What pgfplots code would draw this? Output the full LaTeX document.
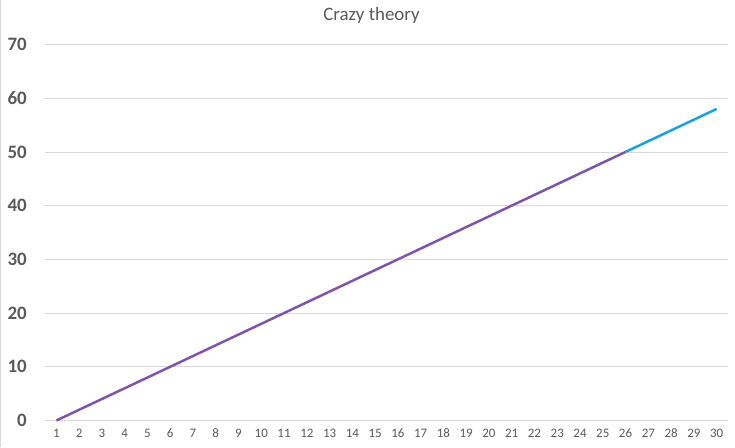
\documentclass[border=0pt]{standalone}
\usepackage{fontspec}
\setmainfont{Carlito}
\usepackage{pgfplots}
\pgfplotsset{compat=1.18}

\definecolor{linepurple}{RGB}{128,84,166}
\definecolor{lineblue}{RGB}{28,160,222}
\definecolor{gridgray}{RGB}{217,217,217}
\definecolor{labelgray}{RGB}{89,89,89}

\begin{document}
\begin{tikzpicture}
\begin{axis}[
    name=ax,
    scale only axis,
    width=683bp, height=376bp,
    xmin=0.5, xmax=30.5,
    ymin=0, ymax=70,
    xtick={1,...,30},
    ytick={0,10,...,70},
    axis line style={draw=none},
    ymajorgrids,
    grid style={gridgray, line width=0.75pt},
    major tick length=0pt,
    tick label style={labelgray},
    /pgf/number format/assume math mode=true,
    yticklabel style={font=\fontsize{19}{19}\selectfont\bfseries, anchor=east, inner sep=0pt, xshift=-18bp},
    xticklabel style={font=\fontsize{13}{13}\selectfont, anchor=north, inner sep=0pt, yshift=-8bp},
    clip=false,
]
% series 1: days 1..26
\addplot[linepurple, line width=2.5pt, line join=round] coordinates {
(1,0) (2,2) (3,4) (4,6) (5,8) (6,10) (7,12) (8,14) (9,16) (10,18)
(11,20) (12,22) (13,24) (14,26) (15,28) (16,30) (17,32) (18,34) (19,36) (20,38)
(21,40) (22,42) (23,44) (24,46) (25,48) (26,50)
};
% series 2: days 26..30
\addplot[lineblue, line width=2.5pt, line join=round] coordinates {
(26,50) (27,52) (28,54) (29,56) (30,58)
};
\end{axis}
\pgfresetboundingbox
\path ([shift={(-45bp,-27bp)}]ax.south west) rectangle ([shift={(7bp,44bp)}]ax.north east);
\draw[gridgray, line width=1pt] ([shift={(-44.5bp,-27bp)}]ax.south west) -- ([shift={(-44.5bp,44bp)}]ax.north west);
\node[labelgray, font=\fontsize{19}{19}\selectfont, anchor=base] at ([shift={(-15bp,23.5bp)}]ax.north) {Crazy theory};
\end{tikzpicture}
\end{document}
